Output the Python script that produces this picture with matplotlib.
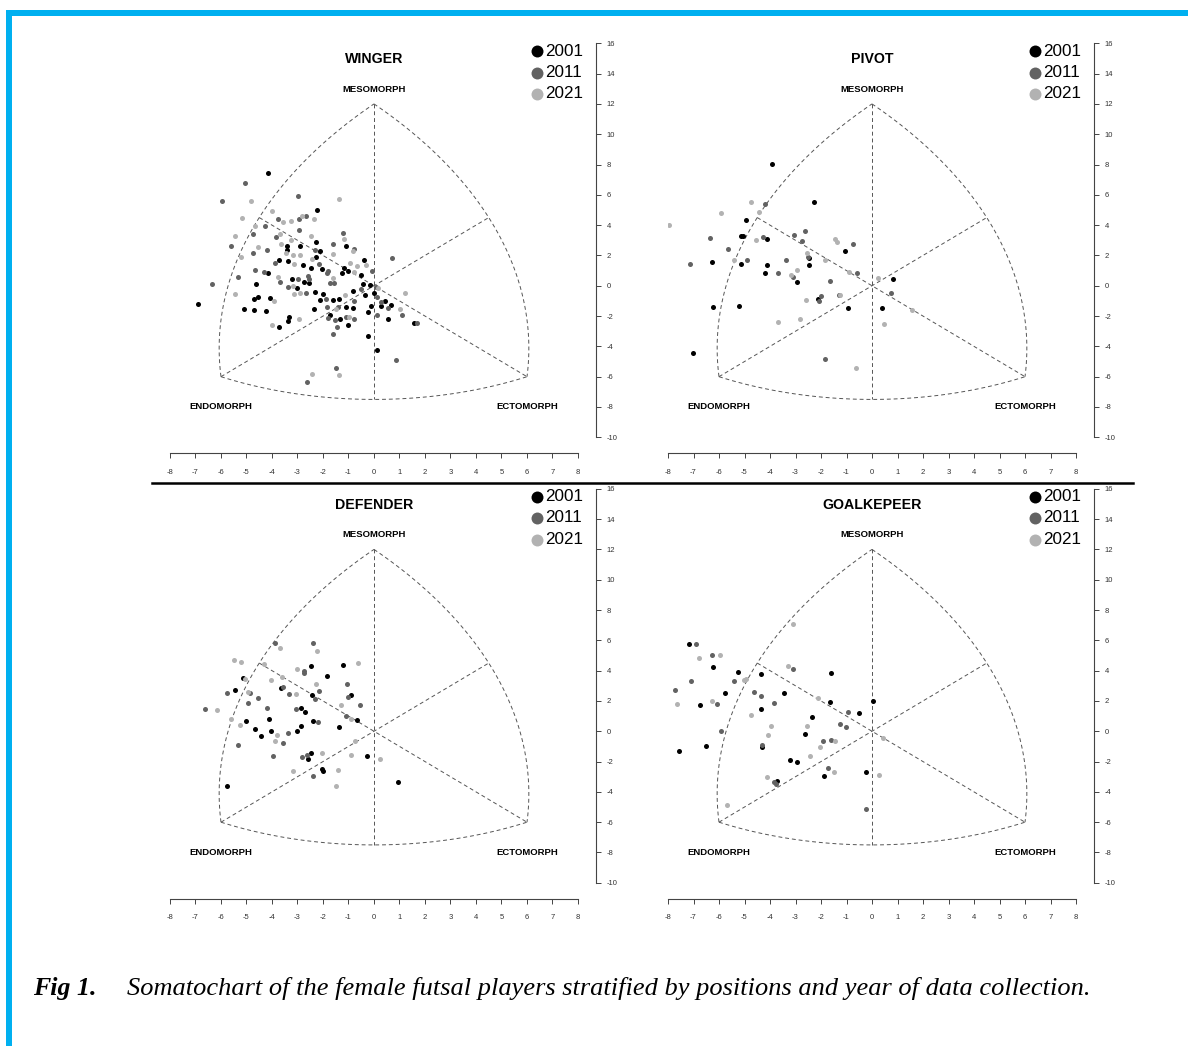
import numpy as np
import matplotlib.pyplot as plt
from matplotlib.lines import Line2D
from matplotlib.patches import Rectangle

W, H = 1188, 1046
plt.rcParams['font.family'] = ['Liberation Sans', 'DejaVu Sans']
plt.rcParams['axes.unicode_minus'] = False

years = ['2001', '2011', '2021']
year_colors = ['#000000', '#626262', '#b2b2b2']
positions = ['WINGER', 'PIVOT', 'DEFENDER', 'GOALKEPEER']
vertex_labels = ['MESOMORPH', 'ENDOMORPH', 'ECTOMORPH']
x_ticks = list(range(-8, 9))
y_ticks = list(range(-10, 17, 2))

# somatotype points (x = ecto - endo, y = 2*meso - endo - ecto)
winger_2001 = [(-4.17, 7.41), (-2.25, 4.97), (-2.26, 2.88), (-3.42, 2.62), (-3.41, 2.33), (-2.92, 2.60),
               (-2.10, 2.27), (-1.11, 2.60), (-3.73, 1.67), (-3.37, 1.61), (-2.77, 1.36), (-2.46, 1.19),
               (-2.26, 1.91), (-2.03, 1.10), (-0.38, 1.67), (-1.25, 0.86), (-1.03, 0.97), (-1.16, 1.19),
               (-0.52, 0.70), (-4.16, 0.86), (-4.64, 0.11), (-3.20, 0.44), (-3.01, -0.13), (-2.73, 0.24),
               (-2.54, 0.15), (-2.30, -0.44), (-1.99, -0.57), (-2.13, -0.95), (-1.61, -0.97), (-1.39, -0.88),
               (-0.81, -0.33), (-0.42, 0.11), (-0.14, 0.02), (-0.35, -0.62), (0.01, -0.51), (0.43, -1.03),
               (0.26, -1.36), (0.67, -1.25), (0.55, -2.22), (1.56, -2.44), (-0.13, -1.36), (-0.24, -1.72),
               (-0.81, -1.50), (-1.08, -1.43), (-1.01, -2.60), (-1.35, -2.20), (-1.73, -1.91), (-0.25, -3.34),
               (0.12, -4.22), (-2.34, -1.56), (-3.35, -2.07), (-3.39, -2.31), (-3.74, -2.71), (-4.08, -0.79),
               (-4.25, -1.65), (-4.71, -1.61), (-5.10, -1.52), (-4.71, -0.86), (-4.54, -0.77), (-6.90, -1.21)]
winger_2011 = [(-5.05, 6.75), (-5.95, 5.59), (-2.98, 5.92), (-3.78, 4.38), (-2.94, 4.42), (-2.65, 4.60),
               (-4.27, 3.96), (-4.73, 3.39), (-3.84, 3.23), (-2.94, 3.65), (-1.22, 3.48), (-5.59, 2.60),
               (-4.20, 2.38), (-2.33, 2.35), (-1.62, 2.75), (-0.77, 2.44), (-4.75, 2.18), (-3.88, 1.50),
               (-2.16, 1.41), (-1.86, 0.86), (-1.79, 0.99), (-0.09, 0.97), (0.69, 1.83), (-5.35, 0.59),
               (-6.34, 0.13), (-4.65, 1.03), (-4.30, 0.92), (-3.67, 0.22), (-3.36, -0.07), (-2.97, 0.44),
               (-2.59, 0.66), (-2.56, 0.44), (-1.73, 0.15), (-1.56, 0.18), (-0.50, -0.20), (0.07, -0.11),
               (0.10, -0.77), (0.26, -1.06), (0.54, -1.45), (1.10, -1.91), (1.70, -2.44), (0.10, -1.96),
               (-0.77, -1.03), (-0.77, -2.20), (-1.08, -2.05), (-1.42, -1.39), (-1.84, -1.39), (-1.52, -2.24),
               (-1.80, -2.11), (-1.44, -2.73), (-1.62, -3.21), (0.86, -4.88), (-1.50, -5.43), (-2.64, -6.34),
               (-2.68, -0.51), (-1.89, -0.88)]
winger_2021 = [(-4.82, 5.61), (-1.37, 5.70), (-3.99, 4.93), (-5.16, 4.47), (-3.56, 4.18), (-3.25, 4.27),
               (-2.81, 4.60), (-2.35, 4.38), (-4.65, 3.96), (-5.44, 3.28), (-3.69, 3.41), (-2.48, 3.28),
               (-1.16, 3.08), (-3.25, 2.99), (-4.56, 2.53), (-3.66, 2.75), (-0.84, 2.31), (-1.59, 2.09),
               (-5.22, 1.91), (-3.46, 2.16), (-3.12, 1.41), (-3.19, 2.02), (-2.89, 2.02), (-2.43, 1.76),
               (-0.93, 1.52), (-0.65, 1.32), (-0.33, 1.34), (-0.77, 0.88), (-1.61, 0.53), (-3.76, 0.55),
               (-3.16, -0.02), (-2.92, -0.46), (-3.12, -0.57), (-1.12, -0.62), (0.16, -0.15), (1.02, -1.52),
               (1.22, -0.51), (-0.98, -2.07), (-1.49, -1.52), (-1.37, -5.90), (-2.43, -5.79), (-2.94, -2.22),
               (-4.00, -2.60), (-3.92, -1.01), (-5.46, -0.55)]

pivot_2001 = [(-3.91, 8.03), (-2.29, 5.52), (-4.94, 4.31), (-5.14, 3.26), (-5.04, 3.26), (-4.12, 3.06),
              (-1.07, 2.29), (-2.46, 1.80), (-6.26, 1.56), (-5.12, 1.43), (-4.12, 1.39), (-2.48, 1.39),
              (-4.21, 0.86), (-2.95, 0.22), (0.82, 0.44), (-2.12, -0.88), (-6.25, -1.39), (-5.22, -1.32),
              (-0.95, -1.45), (0.39, -1.47), (-7.01, -4.47)]
pivot_2011 = [(-4.20, 5.41), (-6.34, 3.12), (-4.27, 3.23), (-3.05, 3.32), (-2.63, 3.59), (-2.73, 2.97),
              (-0.76, 2.75), (-5.63, 2.42), (-2.50, 1.91), (-7.12, 1.43), (-4.89, 1.67), (-3.36, 1.69),
              (-3.70, 0.81), (-3.08, 0.59), (-1.63, 0.31), (-0.58, 0.84), (0.76, -0.48), (-2.01, -0.66),
              (-2.09, -1.03), (-1.31, -0.62), (-1.83, -4.82)]
pivot_2021 = [(-7.95, 3.98), (-4.76, 5.50), (-5.93, 4.77), (-4.44, 4.84), (-4.55, 3.04), (-1.45, 3.06),
              (-1.36, 2.90), (-2.56, 2.13), (-5.41, 1.69), (-1.84, 1.69), (-3.16, 0.70), (-2.94, 1.06),
              (-0.92, 0.90), (0.24, 0.51), (-1.26, -0.64), (-2.58, -0.92), (1.56, -1.58), (-3.70, -2.42),
              (-2.84, -2.18), (0.48, -2.53), (-0.64, -5.41)]

defender_2001 = [(-2.49, 4.31), (-1.22, 4.40), (-1.86, 3.67), (-5.14, 3.50), (-3.65, 2.86), (-5.47, 2.75),
                 (-2.44, 2.40), (-0.90, 2.42), (-2.86, 1.52), (-2.71, 1.25), (-0.67, 0.73), (-5.00, 0.68),
                 (-4.12, 0.81), (-2.40, 0.66), (-2.86, 0.37), (-1.39, 0.31), (-4.67, 0.13), (-4.05, 0.00),
                 (-4.44, -0.29), (-3.01, 0.00), (-2.49, -1.45), (-2.58, -1.83), (-0.29, -1.61), (-2.05, -2.49),
                 (-1.99, -2.62), (-5.78, -3.63), (0.95, -3.34)]
defender_2011 = [(-3.89, 5.83), (-2.41, 5.85), (-2.76, 4.00), (-2.76, 3.83), (-1.07, 3.10), (-3.56, 2.90),
                 (-5.75, 2.55), (-4.87, 2.53), (-3.35, 2.46), (-2.14, 2.64), (-1.00, 2.29), (-4.56, 2.18),
                 (-2.32, 2.11), (-4.96, 1.85), (-0.54, 1.76), (-4.20, 1.54), (-3.07, 1.50), (-6.62, 1.45),
                 (-1.08, 0.99), (-2.20, 0.64), (-3.38, -0.13), (-3.56, -0.77), (-5.33, -0.88), (-3.97, -1.61),
                 (-2.83, -1.67), (-2.62, -1.58), (-2.41, -2.93)]
defender_2021 = [(-3.67, 5.50), (-2.25, 5.32), (-5.48, 4.71), (-5.20, 4.55), (-4.32, 4.42), (-0.63, 4.53),
                 (-3.03, 4.14), (-3.61, 3.56), (-5.04, 3.43), (-4.02, 3.39), (-2.29, 3.12), (-4.95, 2.57),
                 (-3.07, 2.46), (-1.31, 1.76), (-6.16, 1.41), (-0.90, 0.79), (-5.60, 0.84), (-5.26, 0.44),
                 (-3.82, -0.22), (-3.88, -0.66), (-0.74, -0.64), (-2.03, -1.43), (-0.92, -1.54), (0.24, -1.83),
                 (-3.16, -2.64), (-1.42, -2.53), (-1.50, -3.59)]

goalkeeper_2001 = [(-7.18, 5.79), (-6.22, 4.22), (-5.25, 3.89), (-6.75, 1.74), (-5.78, 2.55), (-4.34, 3.78),
                   (-4.35, 1.50), (-3.45, 2.53), (-1.59, 3.85), (-1.66, 1.91), (-0.51, 1.21), (0.04, 2.00),
                   (-2.34, 0.95), (-2.61, -0.15), (-4.30, -1.06), (-7.57, -1.32), (-6.52, -0.97), (-3.20, -1.87),
                   (-2.95, -2.00), (-1.90, -2.93), (-0.22, -2.68), (-3.74, -3.28)]
goalkeeper_2011 = [(-6.89, 5.76), (-6.27, 5.06), (-7.10, 3.30), (-7.71, 2.75), (-6.08, 1.83), (-5.40, 3.34),
                   (-4.64, 2.60), (-4.34, 2.35), (-3.86, 1.85), (-3.11, 4.09), (-0.94, 1.25), (-1.25, 0.51),
                   (-1.01, 0.29), (-5.91, 0.02), (-1.93, -0.66), (-1.62, -0.55), (-4.33, -0.92), (-1.73, -2.42),
                   (-3.84, -3.32), (-3.76, -3.45), (-0.25, -5.15)]
goalkeeper_2021 = [(-6.80, 4.84), (-5.95, 5.02), (-7.65, 1.78), (-6.27, 2.02), (-5.02, 3.41), (-4.93, 3.48),
                   (-4.73, 1.10), (-3.29, 4.33), (-3.10, 7.06), (-2.12, 2.22), (-2.55, 0.35), (-3.96, 0.33),
                   (-4.09, -0.22), (-1.46, -0.66), (-2.04, -1.03), (0.43, -0.42), (-2.43, -1.65), (-1.49, -2.66),
                   (0.27, -2.88), (-4.12, -3.01), (-5.69, -4.86)]

panel_data = [
    [winger_2001, winger_2011, winger_2021],
    [pivot_2001, pivot_2011, pivot_2021],
    [defender_2001, defender_2011, defender_2021],
    [goalkeeper_2001, goalkeeper_2011, goalkeeper_2021],
]

# pixel boxes (left, top, right, bottom) of the plot regions
boxes = [(170, 43.3, 578, 437.3), (668, 43.3, 1076, 437.3),
         (170, 488.8, 578, 882.8), (668, 488.8, 1076, 882.8)]

fig = plt.figure(figsize=(W / 100, H / 100), dpi=100)


def fx(px):
    return px / W


def fy(py):
    return 1 - py / H


def arc_through(p1, p2, p3, n=120):
    (x1, y1), (x2, y2), (x3, y3) = p1, p2, p3
    d = 2 * (x1 * (y2 - y3) + x2 * (y3 - y1) + x3 * (y1 - y2))
    ux = ((x1**2 + y1**2) * (y2 - y3) + (x2**2 + y2**2) * (y3 - y1) + (x3**2 + y3**2) * (y1 - y2)) / d
    uy = ((x1**2 + y1**2) * (x3 - x2) + (x2**2 + y2**2) * (x1 - x3) + (x3**2 + y3**2) * (x2 - x1)) / d
    r = np.hypot(x1 - ux, y1 - uy)
    a1 = np.arctan2(y1 - uy, x1 - ux)
    a3 = np.arctan2(y3 - uy, x3 - ux)
    if a3 - a1 > np.pi:
        a3 -= 2 * np.pi
    elif a3 - a1 < -np.pi:
        a3 += 2 * np.pi
    t = np.linspace(a1, a3, n)
    return ux + r * np.cos(t), uy + r * np.sin(t)


dash = dict(color='#555555', lw=0.7, linestyle=(0, (4, 3)))

for k, ax_box in enumerate(boxes):
    l, t, r, b = ax_box
    ax = fig.add_axes([fx(l), fy(b), fx(r - l), (b - t) / H])
    ax.patch.set_alpha(0)
    ax.set_xlim(-8, 8)
    ax.set_ylim(-10, 16)
    for s in ['top', 'left']:
        ax.spines[s].set_visible(False)
    ax.spines['bottom'].set_position(('outward', 11.5))
    ax.spines['right'].set_position(('outward', 13))
    for s in ['bottom', 'right']:
        ax.spines[s].set_color('#444444')
        ax.spines[s].set_linewidth(0.8)
    ax.yaxis.tick_right()
    ax.set_xticks(x_ticks)
    ax.set_yticks(y_ticks)
    ax.tick_params(length=3.5, width=0.7, color='#444444', labelsize=5.5, labelcolor='#333333')
    ax.tick_params(axis='x', pad=7.5)
    ax.tick_params(axis='y', pad=4)

    # somatochart frame
    for xs, ys in [arc_through((-6, -6), (-4.5, 4.5), (0, 12)),
                   arc_through((0, 12), (4.5, 4.5), (6, -6)),
                   arc_through((-6, -6), (0, -7.5), (6, -6))]:
        ax.plot(xs, ys, **dash)
    ax.plot([0, 0], [12, -7.5], **dash)
    ax.plot([-4.5, 6], [4.5, -6], **dash)
    ax.plot([-6, 4.5], [-6, 4.5], **dash)

    for series, color in zip(panel_data[k], year_colors):
        pts = np.array(series)
        ax.scatter(pts[:, 0], pts[:, 1], s=13, color=color, linewidths=0, zorder=3)

    ax.text(0, 14.95, positions[k], ha='center', va='center', fontsize=10.2, fontweight='bold')
    ax.text(0, 12.98, vertex_labels[0], ha='center', va='center', fontsize=6.8, fontweight='bold')
    ax.text(-6, -8.0, vertex_labels[1], ha='center', va='center', fontsize=6.8, fontweight='bold')
    ax.text(6, -8.0, vertex_labels[2], ha='center', va='center', fontsize=6.8, fontweight='bold')

    # legend
    for i, (yr, color) in enumerate(zip(years, year_colors)):
        py = t + 7.7 + i * 21.5
        fig.add_artist(Line2D([fx(l + 367)], [fy(py)], marker='o', markersize=8.6, color=color,
                              markeredgewidth=0, linestyle='none'))
        fig.text(fx(l + 375.5), fy(py), yr, ha='left', va='center', fontsize=12.3)

# separator line
fig.add_artist(Line2D([fx(152), fx(1133)], [fy(482.5), fy(482.5)], color='black', lw=1.8))

# blue frame
blue = '#00b0f0'
fig.add_artist(Rectangle((fx(6), fy(16)), fx(W), 6 / H, color=blue, lw=0))
fig.add_artist(Rectangle((fx(6), 0), 6 / W, fy(10), color=blue, lw=0))

# caption
fig.text(fx(33), fy(989), 'Fig 1.', ha='left', va='center', fontsize=18.6,
         family='Liberation Serif', style='italic', fontweight='bold')
fig.text(fx(127), fy(989), 'Somatochart of the female futsal players stratified by positions and year of data collection.',
         ha='left', va='center', fontsize=19, family='Liberation Serif', style='italic')

fig.savefig('out.png', dpi=100)
